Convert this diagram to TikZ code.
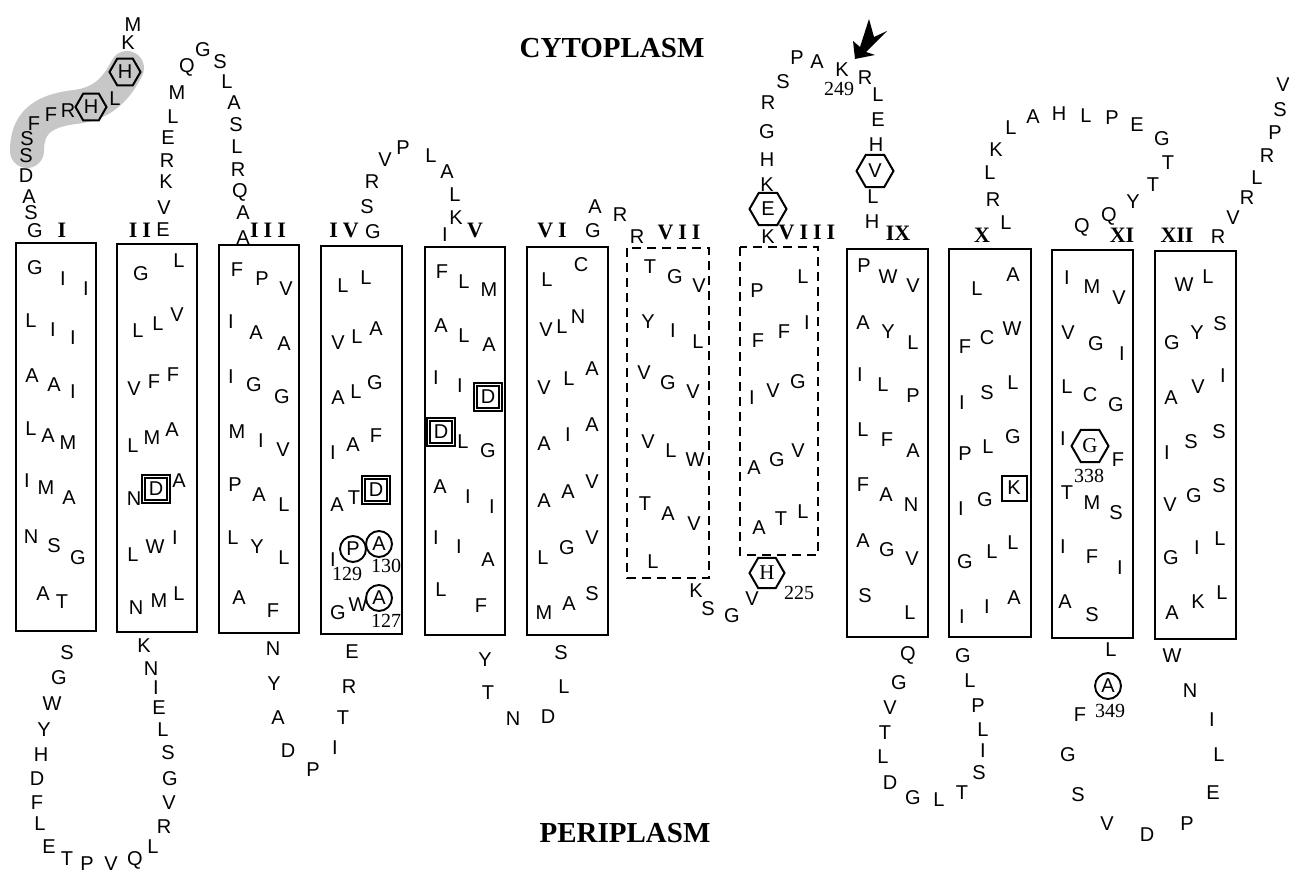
\documentclass[tikz,border=0pt]{standalone}
\usepackage{fontspec}
\setmainfont{Liberation Serif}
\newfontfamily\sansaa{Liberation Sans}
\usetikzlibrary{shapes.geometric}
\newcommand\resfont{\sansaa\fontsize{20}{20}\selectfont}
\newcommand\numfont{\rmfamily\fontsize{20}{20}\selectfont}
\newcommand\helixfont{\rmfamily\bfseries\fontsize{22}{22}\selectfont}
\newcommand\regionfont{\rmfamily\bfseries\fontsize{29}{29}\selectfont}
\newcommand\gp{\hspace{5pt}}
% one node per residue: #1 = name prefix, #2 = letter/x/y list
\newcommand\residues[2]{\foreach \c/\x/\y [count=\k] in {#2} \node[res] (#1-\k) at (\x,\y) {\c};}
\tikzset{
  res/.style={font=\resfont, inner sep=0pt},
  num/.style={font=\numfont, inner sep=0pt},
  helix/.style={font=\helixfont, inner sep=0pt},
  region/.style={font=\regionfont, inner sep=0pt},
  tmbox/.style={draw, line width=1.3pt},
  tmdash/.style={draw, line width=1.3pt, dash pattern=on 9pt off 6pt},
  hexa/.style={regular polygon, regular polygon sides=6, draw, line width=2pt,
               minimum size=37pt, inner sep=0pt, font=\resfont},
  hexs/.style={hexa, minimum size=31pt},
  hexr/.style={hexa, font=\rmfamily\fontsize{21}{21}\selectfont},
  ring/.style={circle, draw, line width=1.9pt, minimum size=26pt, inner sep=0pt, font=\resfont},
  dbox/.style={draw, double, line width=1.3pt, double distance=1.5pt, minimum size=25pt,
               inner sep=0pt, font=\resfont},
  sbox/.style={draw, line width=2pt, minimum size=25pt, inner sep=0pt, font=\resfont},
  band/.style={line width=34pt, line cap=round, black!22},
}
\begin{document}
\begin{tikzpicture}[x=1pt,y=-1pt]
\useasboundingbox (0,0) rectangle (1289,874);

% shaded N-terminal segment
\draw[band] (127,68) .. controls (115,92) and (100,104) .. (75,107)
            .. controls (40,111) and (27,125) .. (27,151);

% transmembrane helices
\foreach \l/\t/\r/\b [count=\k] in {16/243/96/631, 117/244/197/632, 219/245/299/633,
    321/246/402/634, 425/247/505/635, 527/247/608/635, 847/249/928/637,
    949/249/1031/637, 1052/250/1133/638, 1155/251/1236/639}
  \draw[tmbox] (\l,\t) rectangle (\r,\b);
\draw[tmdash] (627,248) rectangle (709,578);
\draw[tmdash] (740,247) rectangle (818,555);

% helix numbers
\node[helix] (n1) at (62,230) {I};
\node[helix] (n2) at (140,230) {I\gp I};
\node[helix] (n3) at (268,230) {I\gp I\gp I};
\node[helix] (n4) at (344,230) {I\gp V};
\node[helix] (n5) at (475,230) {V};
\node[helix] (n6) at (552,230) {V\gp I};
\node[helix] (n7) at (679,232) {V\gp I\gp I};
\node[helix] (n8) at (807,232) {V\gp I\gp I\gp I};
\node[helix] (n9) at (898,233) {IX};
\node[helix] (n10) at (982,235) {X};
\node[helix] (n11) at (1122,235) {XI};
\node[helix] (n12) at (1177,235) {XII};

\node[region] (cyto) at (612,48) {CYTOPLASM};
\node[region] (peri) at (625,833) {PERIPLASM};

% N-terminus
\residues{nt}{M/133/25, K/128/43, L/115/99, R/68/111, F/51/115, F/34/124, S/27/139,
  S/26/156, D/26/176, A/29/197, S/31/213, G/35/231}
\node[hexs] (h1) at (125,72) {H};
\node[hexs] (h2) at (91,107) {H};

% helix I
\residues{t1}{G/35/268, I/63/279, I/86/289, L/31/321, I/53/330, I/73/338, A/32/376,
  A/54/385, I/73/392, L/31/429, A/48/436, M/68/443, I/27/481, M/46/488, A/69/498,
  N/31/537, S/54/546, G/78/558, A/43/594, T/62/602}
% loop I-II
\residues{p1}{S/67/653, G/59/678, W/52/704, Y/44/730, H/41/755, D/37/779, F/37/803,
  L/40/824, E/49/847, T/67/859, P/87/864, V/111/864, Q/135/860, L/153/847, R/164/827,
  V/169/803, G/170/779, S/168/753, L/163/730, E/159/708, I/156/688, N/151/669, K/144/646}
% helix II
\residues{t2}{G/141/274, L/179/261, L/138/331, L/158/324, V/177/315, V/134/389,
  F/154/382, F/173/375, L/133/446, M/152/438, A/172/430, N/134/499, A/179/481,
  L/133/555, W/155/547, I/175/538, N/136/608, M/159/601, L/179/594}
\node[dbox] (d1) at (156,489) {D};
% loop II-III
\residues{c1}{E/163/230, V/164/208, K/166/182, R/167/161, E/168/138, L/173/117,
  M/177/93, Q/187/67, G/203/50, S/220/62, L/227/82, A/234/103, S/236/125, L/237/147,
  R/238/170, Q/240/192, A/243/213, A/243/238}
% helix III
\residues{t3}{F/237/270, P/262/279, V/286/289, I/231/322, A/256/333, A/284/344,
  I/231/377, G/254/385, G/282/397, M/237/432, I/261/441, V/283/450, P/235/485,
  A/259/495, L/284/505, L/233/538, Y/257/547, L/284/558, A/239/598, F/273/611}
% loop III-IV
\residues{p2}{N/273/649, Y/274/684, A/278/718, D/288/751, P/313/770, I/335/748,
  T/343/718, R/349/687, E/352/652}
% helix IV
\residues{t4}{L/343/286, L/366/278, V/338/343, L/357/337, A/376/329, A/338/398,
  L/356/392, G/375/383, I/333/453, A/353/445, F/376/436, A/337/505, T/354/498,
  I/333/560, G/338/613, W/358/605}
\node[dbox] (d2) at (376,490) {D};
\node[ring] (r1) at (353,549) {P};
\node[ring] (r2) at (379,544) {A};
\node[ring] (r3) at (379,598) {A};
\node[num] (k129) at (347,574) {129};
\node[num] (k130) at (386,566) {130};
\node[num] (k127) at (386,621) {127};
% loop IV-V
\residues{c2}{G/373/232, S/367/207, R/372/182, V/385/160, P/403/148, L/431/156,
  A/447/172, L/455/195, K/456/218, I/445/235}
% helix V
\residues{t5}{F/442/272, L/464/282, M/489/290, A/441/326, L/464/336, A/489/345,
  I/436/378, I/460/386, L/463/442, G/488/451, A/440/487, I/468/497, I/492/507,
  I/436/538, I/459/547, A/488/560, L/441/590, F/481/606}
\node[dbox] (d3) at (488,397) {D};
\node[dbox] (d4) at (441,432) {D};
% loop V-VI
\residues{p3}{Y/485/660, T/488/693, N/513/719, D/548/717, L/564/687, S/561/653}
% helix VI
\residues{t6}{L/547/280, C/581/265, V/546/330, L/562/327, N/578/317, V/544/388,
  L/569/379, A/592/369, A/544/444, I/568/435, A/592/425, A/544/501, A/568/492,
  V/592/482, L/543/558, G/567/548, V/592/538, M/544/613, A/569/604, S/592/594}
% loop VI-VII
\residues{c3}{G/593/231, A/595/207, R/620/215, R/637/237}
% helix VII
\residues{t7}{T/650/267, G/675/277, V/699/286, Y/648/322, I/673/331, L/698/342,
  V/644/373, G/668/383, V/693/392, V/648/442, L/671/451, W/695/460, T/645/504,
  A/668/514, V/694/524, L/653/562}
% loop VII-VIII
\residues{p4}{K/696/591, S/708/609, G/732/616, V/752/599}
\node[hexr, minimum size=35pt] (h3) at (767,573) {H};
\node[num] (k225) at (799,593) {225};
% helix VIII
\residues{t8}{P/757/291, L/803/277, F/758/341, F/784/332, I/807/323, I/752/398,
  V/773/391, G/798/382, A/754/468, G/777/460, V/798/451, A/759/528, T/781/519,
  L/803/512}
% loop VIII-IX
\residues{c4}{K/768/237, K/767/185, H/767/160, G/767/132, R/768/103, S/783/82,
  P/797/58, A/817/62, K/842/70, R/865/78, L/878/95, E/878/120, H/876/145,
  L/873/197, H/872/222}
\node[hexa] (h4) at (768,209) {E};
\node[hexa] (h5) at (875,171) {V};
\node[num] (k249) at (839,89) {249};
% cleavage arrow
\fill (855,59) -- (853,41) -- (860,47) -- (869,19) -- (874,37) -- (887,31)
      -- (866,52) -- (875,55) -- cycle;
% helix IX
\residues{t9}{P/864/266, W/888/277, V/913/286, A/863/323, Y/888/332, L/913/343,
  I/860/375, L/883/385, P/913/396, L/863/430, F/887/440, A/913/451, F/863/485,
  A/886/495, N/911/505, A/863/541, G/887/550, V/912/559, S/865/596, L/910/613}
% loop IX-X
\residues{p5}{Q/908/655, G/899/683, V/890/708, T/885/733, L/883/757, D/890/783,
  G/913/798, L/939/800, T/962/793, S/979/773, I/983/751, L/983/730, P/978/706,
  L/970/681, G/963/656}
% helix X
\residues{t10}{L/977/289, A/1013/275, F/965/347, C/987/338, W/1012/329, I/962/403,
  S/987/393, L/1013/383, P/965/454, L/988/447, G/1013/437, I/961/509, G/985/500,
  G/965/562, L/992/552, L/1013/543, I/962/617, I/987/607, A/1014/598}
\node[sbox] (s1) at (1014,488) {K};
% loop X-XI
\residues{c5}{L/1006/223, R/993/200, L/990/173, K/996/150, L/1011/128, A/1033/117,
  H/1059/114, L/1086/116, P/1112/118, E/1137/125, G/1162/139, T/1168/163,
  T/1153/185, Y/1133/202, Q/1109/216, Q/1082/227}
% helix XI
\residues{t11}{I/1067/278, M/1092/287, V/1119/298, V/1068/333, G/1096/344,
  I/1122/354, L/1067/387, C/1090/395, G/1116/405, I/1063/439, F/1118/460,
  T/1067/493, M/1092/503, S/1116/513, I/1063/547, F/1092/557, I/1120/568,
  A/1065/602, S/1092/615}
\node[hexr] (h6) at (1090,446) {G};
\node[num] (k338) at (1089,476) {338};
% loop XI-XII
\residues{p6}{L/1111/650, F/1080/715, G/1068/755, S/1078/795, V/1107/824,
  D/1147/835, P/1187/824, E/1213/793, L/1219/755, I/1212/720, N/1190/691, W/1172/656}
\node[ring] (r4) at (1108,686) {A};
\node[num] (k349) at (1110,711) {349};
% helix XII
\residues{t12}{W/1184/285, L/1208/277, G/1172/343, Y/1197/333, S/1220/324,
  A/1171/398, V/1198/387, I/1223/376, I/1167/453, S/1191/442, S/1219/432,
  V/1170/505, G/1194/496, S/1219/486, G/1171/558, I/1197/548, L/1220/539,
  A/1172/613, K/1198/602, L/1222/593}
% C-terminus
\residues{ct}{R/1218/237, V/1233/218, R/1247/198, L/1257/178, R/1267/156,
  P/1275/133, S/1280/110, V/1283/85}
\end{tikzpicture}
\end{document}
